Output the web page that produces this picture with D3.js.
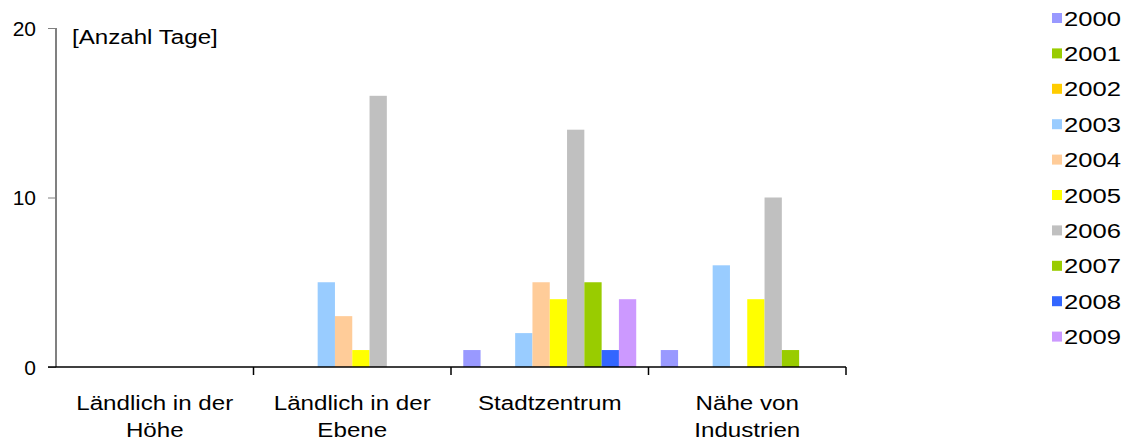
<!DOCTYPE html>
<html><head><meta charset="utf-8">
<script src="https://cdn.jsdelivr.net/npm/d3@7"></script>
<style>body{margin:0;background:#fff}svg{display:block}text{font-family:"Liberation Sans",Arial,sans-serif;fill:#000}</style>
</head><body><svg id="c" width="1132" height="444"></svg>
<script>
const categories = [["Ländlich in der","Höhe"],["Ländlich in der","Ebene"],["Stadtzentrum"],["Nähe von","Industrien"]];
const years = ["2000","2001","2002","2003","2004","2005","2006","2007","2008","2009"];
const colors = ["#9999FF","#99CC00","#FFCC00","#99CCFF","#FFCC99","#FFFF00","#C0C0C0","#99CC00","#3366FF","#CC99FF"];
const v2000 = [0,0,1,1];
const v2001 = [0,0,0,0];
const v2002 = [0,0,0,0];
const v2003 = [0,5,2,6];
const v2004 = [0,3,5,0];
const v2005 = [0,1,4,4];
const v2006 = [0,16,14,10];
const v2007 = [0,0,5,1];
const v2008 = [0,0,1,0];
const v2009 = [0,0,4,0];
const yTicks = [0,10,20];
const yLabel = "[Anzahl Tage]";

const series = [v2000,v2001,v2002,v2003,v2004,v2005,v2006,v2007,v2008,v2009];
const svg = d3.select("#c");
const x0 = 56, x1 = 846, yTop = 28, yBot = 367;
const FS = 21, SX = 1.15;
const x = d3.scaleBand().domain(d3.range(categories.length)).range([x0,x1]).paddingInner(0).paddingOuter(0);
const xs = d3.scaleBand().domain(d3.range(years.length)).range([0,x.bandwidth()]).paddingInner(0).paddingOuter(0.71);
const y = d3.scaleLinear().domain([0,20]).range([yBot,yTop]);

function stext(g, tx, ty, str, anchor, sx){
  return g.append("g").attr("transform",`translate(${tx},${ty}) scale(${sx||SX},1)`)
    .append("text").attr("text-anchor",anchor||"start").style("font-size",FS+"px").text(str);
}

// bars
series.forEach((vals,si)=>{
  const pts = vals.map((v,i)=>({v,i})).filter(d=>d.v>0);
  svg.append("g").selectAll("rect").data(pts).join("rect")
    .attr("x",d=>x(d.i)+xs(si))
    .attr("width",xs.bandwidth())
    .attr("y",d=>y(d.v))
    .attr("height",d=>y(0)-y(d.v))
    .attr("fill",colors[si]);
});

// y axis
const ya = svg.append("g").attr("transform",`translate(${x0},0)`)
  .call(d3.axisLeft(y).tickValues(yTicks).tickSize(8).tickPadding(12).tickFormat(d3.format("d")));
ya.select(".domain").attr("stroke","#808080").attr("stroke-width",2).attr("d",`M0,${yTop}V${yBot}`);
ya.selectAll(".tick line").attr("stroke","#808080");
ya.selectAll("text").style("font-size",FS+"px").attr("font-family",null).attr("dy","0.35em");

// x axis
const xa = svg.append("g").attr("transform",`translate(0,${yBot})`);
xa.append("line").attr("x1",x0-8).attr("x2",x1).attr("stroke","#000").attr("stroke-width",1.5);
const tickPos = d3.range(1,categories.length).map(i=>x(i)).concat([x1]);
xa.selectAll("line.t").data(tickPos).join("line").attr("class","t")
  .attr("x1",d=>d).attr("x2",d=>d).attr("y1",0).attr("y2",8).attr("stroke","#000").attr("stroke-width",1.5);
categories.forEach((lines,i)=>{
  lines.forEach((l,j)=>stext(xa, x(i)+x.bandwidth()/2, 43+j*27, l, "middle"));
});

stext(svg, 72, 44, yLabel);

// legend
const lg = svg.append("g");
years.forEach((yr,i)=>{
  const cy = 18 + i*35.4;
  lg.append("rect").attr("x",1052).attr("y",cy-5).attr("width",10).attr("height",10).attr("fill",colors[i]);
  stext(lg, 1064, cy+7.5, yr, "start", 1.22);
});
</script></body></html>
